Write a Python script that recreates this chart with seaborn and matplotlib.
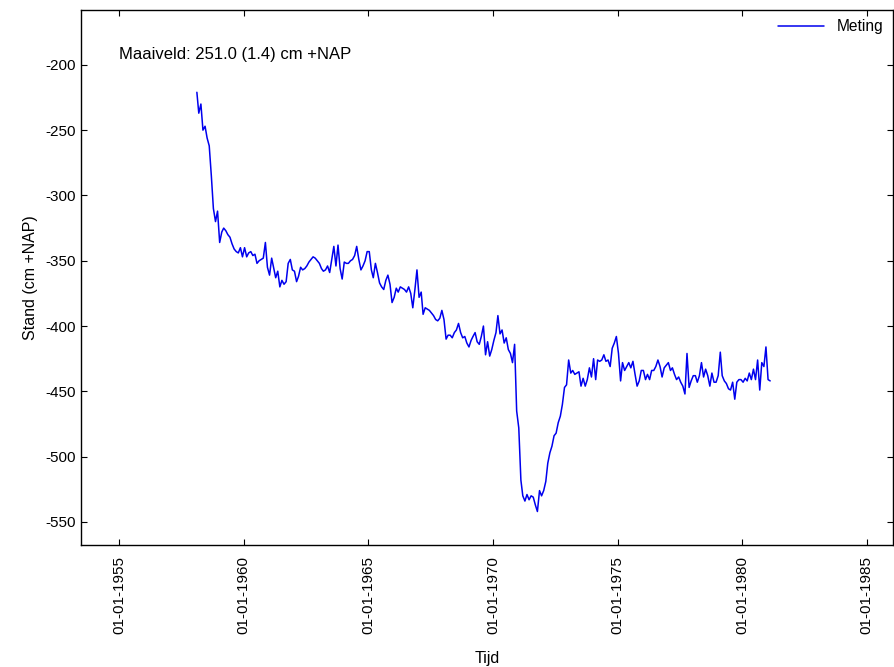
"""Grondwaterstand meting, recreated with seaborn."""

import matplotlib

matplotlib.use("Agg")
import matplotlib.dates as mdates
import matplotlib.pyplot as plt
import pandas as pd
import seaborn as sns


LINE_BLUE = "#0000ee"

# monthly readings (cm +NAP), first value is Feb 1958
y1958 = [-221, -237, -230, -250, -247, -256, -262, -285, -310, -320, -312]
y1959 = [-336, -328, -325, -327, -330, -332, -337, -341, -343, -344, -340, -347]
y1960 = [-340, -347, -344, -343, -346, -345, -352, -350, -349, -348, -336, -355]
y1961 = [-361, -348, -355, -363, -358, -370, -365, -368, -366, -352, -349, -357]
y1962 = [-358, -366, -362, -355, -357, -356, -354, -351, -349, -347, -348, -350]
y1963 = [-352, -356, -358, -357, -354, -359, -349, -339, -354, -338, -356, -364]
y1964 = [-351, -352, -352, -350, -349, -346, -339, -349, -357, -354, -350, -343]
y1965 = [-343, -357, -363, -352, -359, -367, -370, -372, -365, -361, -368, -382]
y1966 = [-378, -371, -374, -370, -371, -372, -374, -370, -375, -386, -372, -357]
y1967 = [-378, -374, -391, -386, -387, -388, -390, -392, -395, -396, -394, -388]
y1968 = [-395, -410, -407, -407, -409, -405, -403, -398, -405, -409, -408, -413]
y1969 = [-416, -411, -408, -405, -412, -414, -408, -400, -422, -412, -423, -418]
y1970 = [-411, -405, -392, -406, -403, -413, -409, -418, -421, -428, -414, -465]
y1971 = [-478, -518, -530, -534, -529, -533, -530, -531, -537, -542, -526, -530]
y1972 = [-526, -519, -505, -497, -492, -484, -482, -474, -469, -460, -447, -445]
y1973 = [-426, -436, -434, -437, -436, -435, -446, -440, -446, -441, -432, -439]
y1974 = [-425, -441, -426, -427, -426, -422, -427, -426, -431, -417, -413, -408]
y1975 = [-421, -442, -428, -434, -431, -428, -432, -427, -437, -446, -442, -434]
y1976 = [-434, -441, -437, -441, -434, -434, -431, -426, -431, -439, -432, -430]
y1977 = [-428, -434, -432, -437, -441, -439, -443, -446, -452, -421, -447, -442]
y1978 = [-438, -438, -443, -438, -428, -439, -433, -438, -446, -436, -443, -443]
y1979 = [-438, -420, -438, -442, -444, -448, -449, -443, -456, -443, -441, -441]
y1980 = [-443, -440, -442, -436, -441, -433, -441, -426, -449, -428, -431, -416]
y1981 = [-441, -442]

years = [y1958, y1959, y1960, y1961, y1962, y1963, y1964, y1965, y1966, y1967,
         y1968, y1969, y1970, y1971, y1972, y1973, y1974, y1975, y1976, y1977,
         y1978, y1979, y1980, y1981]
stand = [v for year in years for v in year]

tick_years = [1955, 1960, 1965, 1970, 1975, 1980, 1985]
y_ticks = [-200, -250, -300, -350, -400, -450, -500, -550]

df = pd.DataFrame({
    "datum": pd.date_range("1958-02-01", periods=len(stand), freq="MS") + pd.Timedelta(days=14),
    "stand": stand,
})

sns.set_style("ticks")
plt.rcParams["font.family"] = ["Liberation Sans", "DejaVu Sans"]
plt.rcParams.update({
    "axes.unicode_minus": False,
    "xtick.direction": "in",
    "ytick.direction": "in",
    "xtick.top": True,
    "ytick.right": True,
    "xtick.major.size": 4,
    "ytick.major.size": 4,
    "axes.linewidth": 1.0,
    "axes.edgecolor": "black",
    "text.color": "black",
    "axes.labelcolor": "black",
    "xtick.color": "black",
    "ytick.color": "black",
})

fig = plt.figure(figsize=(8.94, 6.67), dpi=100)
ax = fig.add_axes([0.0906, 0.183, 0.908, 0.802])

sns.lineplot(data=df, x="datum", y="stand", color=LINE_BLUE, linewidth=1.1,
             estimator=None, label="Meting", ax=ax)

ax.set_xlim(pd.Timestamp("1953-06-23"), pd.Timestamp("1986-01-16"))
ax.set_ylim(-567.6, -158)
ax.set_xticks([pd.Timestamp(f"{y}-01-01") for y in tick_years])
ax.xaxis.set_major_formatter(mdates.DateFormatter("%d-%m-%Y"))
ax.set_yticks(y_ticks)
ax.tick_params(axis="x", rotation=90, labelsize=11, pad=8)
ax.tick_params(axis="y", labelsize=11, pad=4)
ax.set_xlabel("Tijd", fontsize=11.5, labelpad=12)
ax.set_ylabel("Stand (cm +NAP)", fontsize=11.5, labelpad=5)

ax.text(0.047, 0.916, "Maaiveld: 251.0 (1.4) cm +NAP", transform=ax.transAxes,
        fontsize=12, va="center", ha="left")

ax.legend(loc="upper right", frameon=False, fontsize=11.2, handlelength=3,
          borderaxespad=0.2)

fig.savefig("out.png", dpi=100)
plt.close(fig)
